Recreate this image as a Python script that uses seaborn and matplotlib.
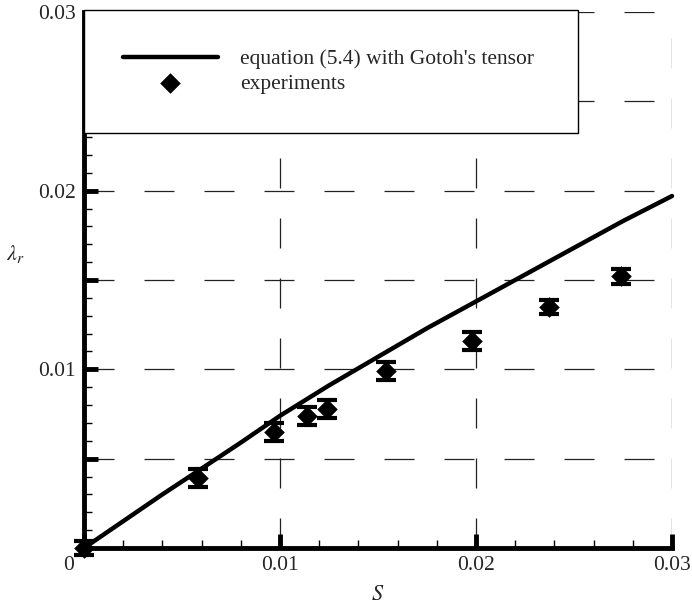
import numpy as np
import pandas as pd
import matplotlib
matplotlib.use("Agg")
import matplotlib.pyplot as plt
from matplotlib.patches import Rectangle
from matplotlib.ticker import FixedLocator, MultipleLocator, FuncFormatter
from matplotlib.transforms import ScaledTranslation
import seaborn as sns

# ---- data ----
curve_S = [0.0, 0.002, 0.004, 0.0058, 0.008, 0.010, 0.0125, 0.015, 0.0175, 0.020, 0.0225, 0.025, 0.0275, 0.030]
curve_lam = [0.0, 0.0015, 0.0030, 0.0043, 0.0059, 0.0074, 0.0091, 0.0107, 0.0123, 0.0138, 0.0153, 0.0168, 0.0183, 0.0197]

exp_S = [0.0, 0.0058, 0.0097, 0.0114, 0.0124, 0.0154, 0.0198, 0.0237, 0.0274]
exp_lam = [0.0, 0.0039, 0.0065, 0.0074, 0.0078, 0.0099, 0.0116, 0.0135, 0.0152]
exp_err = [0.0004, 0.0005, 0.0005, 0.0005, 0.0005, 0.0005, 0.0005, 0.0004, 0.0004]

label_curve = "equation (5.4) with Gotoh's tensor"
label_exp = "experiments"
x_ticks = [0.0, 0.01, 0.02, 0.03]
y_ticks = [0.005, 0.01, 0.015, 0.02, 0.025, 0.03]

sns.set_style("white")
plt.rcParams['font.family'] = ['Liberation Serif', 'DejaVu Serif']
plt.rcParams['mathtext.fontset'] = 'stix'

fig = plt.figure(figsize=(6.92, 6.09), dpi=100)
ax = fig.add_axes([84/692, 61/609, 588/692, 536/609])

df_curve = pd.DataFrame({"S": curve_S, "lam": curve_lam})
df_exp = pd.DataFrame({"S": exp_S, "lam": exp_lam, "err": exp_err})

sns.lineplot(data=df_curve, x="S", y="lam", ax=ax, color="black", linewidth=3.2,
             label=label_curve, zorder=3, clip_on=False)
ax.errorbar(df_exp["S"], df_exp["lam"], yerr=df_exp["err"], fmt="none", ecolor="black",
            elinewidth=2.0, capsize=7, capthick=3.0, zorder=4, clip_on=False)
sns.scatterplot(data=df_exp, x="S", y="lam", ax=ax, marker="D", s=110, color="black",
                edgecolor="black", linewidth=0, label=label_exp, zorder=5, clip_on=False)

ax.set_xlim(0, 0.03)
ax.set_ylim(0, 0.03)

ax.xaxis.set_major_locator(FixedLocator(x_ticks))
ax.xaxis.set_minor_locator(MultipleLocator(0.002))
ax.yaxis.set_major_locator(FixedLocator(y_ticks))
ax.yaxis.set_minor_locator(MultipleLocator(0.001))

def xfmt(v, pos):
    return "0" if abs(v) < 1e-12 else f"{v:.2f}"

def yfmt(v, pos):
    r = round(v / 0.01)
    if abs(v - r * 0.01) < 1e-9 and r > 0:
        return f"{v:.2f}"
    return ""

ax.xaxis.set_major_formatter(FuncFormatter(xfmt))
ax.yaxis.set_major_formatter(FuncFormatter(yfmt))

ax.tick_params(axis="both", which="major", direction="in", length=10, width=3.5,
               labelsize=15.5, pad=6, color="black")
ax.tick_params(axis="both", which="minor", direction="in", length=6, width=1.0, color="black")
ax.tick_params(left=True, bottom=True, which="both")

ax.grid(True, which="major", color="#222222", linewidth=0.9, linestyle=(0, (24, 24)))

for side in ["top", "right"]:
    ax.spines[side].set_visible(False)
for side in ["left", "bottom"]:
    ax.spines[side].set_linewidth(3.5)
    ax.spines[side].set_color("black")
    ax.spines[side].set_zorder(6)

ax.set_xlabel("$S$", fontsize=16)
ax.xaxis.set_label_coords(0.5, -0.070)
ax.set_ylabel(r"$\lambda_r$", fontsize=16, rotation=0)
ax.yaxis.set_label_coords(-0.117, 0.528)

rect = Rectangle((0.0, 0.774), 0.840, 0.230, transform=ax.transAxes, facecolor="white",
                 edgecolor="black", linewidth=1.0, zorder=7, clip_on=False)
ax.add_patch(rect)

leg = ax.legend(loc="upper left", bbox_to_anchor=(0.066, 0.931), frameon=False,
                fontsize=15.5, handlelength=4.4, handletextpad=1.05, labelspacing=0.21,
                borderpad=0, borderaxespad=0)
leg.set_zorder(8)

fig.canvas.draw()
lbl0 = ax.xaxis.get_major_ticks()[0].label1
lbl0.set_transform(lbl0.get_transform() + ScaledTranslation(-0.15, 0, fig.dpi_scale_trans))

fig.savefig("out.png", dpi=100)
